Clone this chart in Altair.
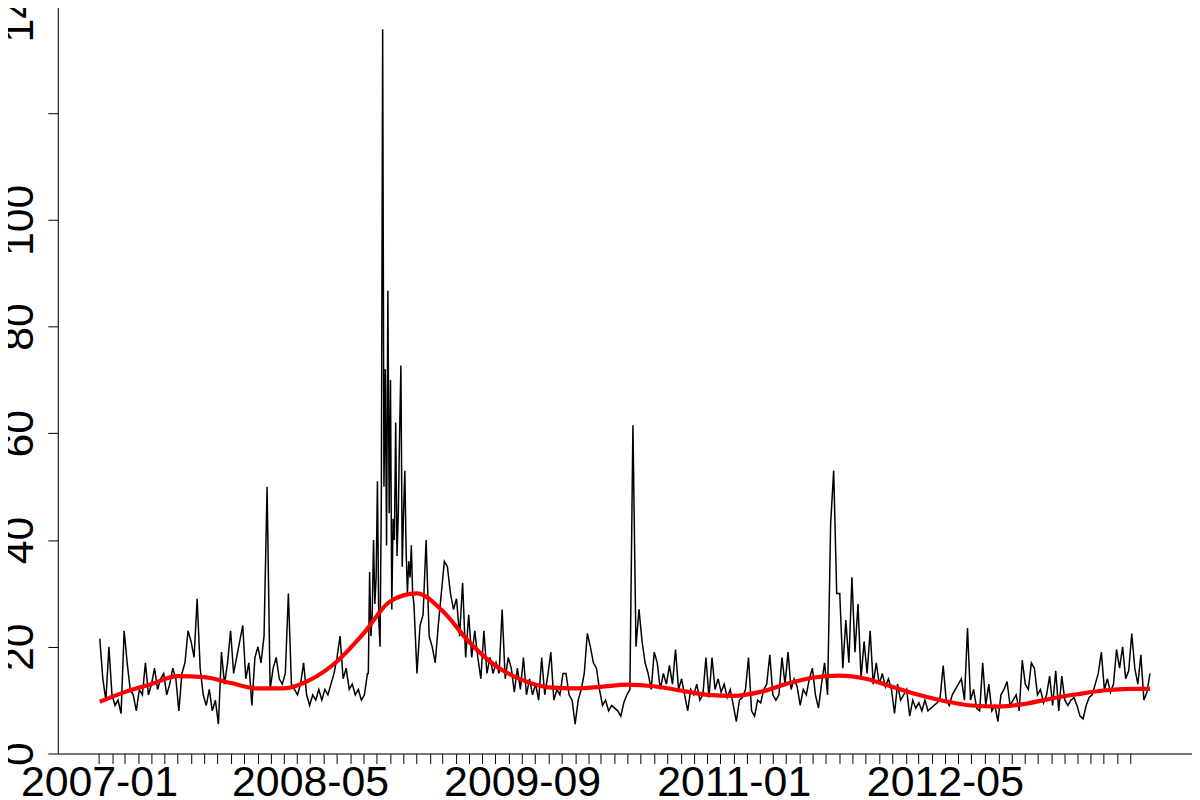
import altair as alt
import pandas as pd

# Weekly observations, Jan 2007 - Sep 2008
vals_2007_2008 = [21.5, 14, 10, 20, 11, 9, 10, 7.5, 23, 17, 12, 11, 8, 12, 11, 17, 11, 13, 16, 12,
                  14, 15, 11, 13, 16, 14, 8, 15, 17, 23, 21, 18, 29, 16, 11, 9, 12, 8, 10, 5.5,
                  19, 13, 17, 23, 15, 18, 21, 24, 14, 17, 9, 18, 20, 17, 22, 50, 12, 16, 18,
                  14, 13, 15, 30, 13, 12, 11, 13, 17, 11, 9, 11, 10, 12, 10, 12, 11, 13, 15, 18,
                  22, 14, 16, 12, 13, 11, 12, 10, 11, 15]
# Every third day during the autumn 2008 crisis
vals_crisis = [15, 34, 22, 26, 40, 28, 33, 51, 25, 20, 49, 135.7, 50, 72, 39, 86.7, 45, 70, 27, 44,
               40, 62, 37, 45, 60, 72.7, 35, 45, 53, 38, 30, 36, 33, 39, 30, 28]
# Weekly observations, Jan 2009 - Aug 2013
vals_2009_2013 = [15, 24, 26, 40, 22, 20, 17, 24, 30, 36,
                  35, 30, 27, 29, 22, 32, 18, 26, 18, 23,
                  18, 14, 23, 15, 18, 15, 17, 15, 27, 14,
                  18, 16, 11.5, 16, 12, 18, 11, 14, 11, 13,
                  10, 18, 11, 14.6, 19, 10, 12, 11, 15, 15,
                  11, 10, 5.5, 10, 12, 15, 22.5, 20, 17, 16,
                  12, 9, 10, 8, 9, 8.5, 8, 7, 9.5, 11,
                  12, 61.5, 20, 27, 21, 17, 15, 12, 19, 17,
                  12, 15, 13, 16.5, 13, 19.5, 12, 14, 11, 8,
                  12, 11, 13, 10, 11, 18, 10.5, 18, 12, 14,
                  11.5, 13, 10.5, 12, 9, 6, 10, 10.5, 12, 18,
                  8, 7, 10, 9.5, 12, 13, 18.5, 11, 10, 11,
                  18, 13, 19, 12, 14, 12.5, 9, 12, 11, 14,
                  16, 11, 8.5, 13, 17, 11, 43, 53, 30, 30,
                  16, 25, 17, 33, 19, 28, 14, 21, 15, 23,
                  13, 17, 13, 15, 12.5, 14, 12, 7.5, 13, 10,
                  11, 12, 7, 10, 8.5, 9.5, 8, 10, 8, 8.5,
                  9, 9.5, 10.5, 16.5, 10, 9, 11, 12, 13, 14,
                  10, 23.5, 10, 12, 8.5, 8, 17, 9, 13, 8,
                  9, 6, 11, 12, 13.5, 9, 10, 11, 8, 17.5,
                  13, 12, 17, 16, 11, 12, 9.5, 11, 14.5, 9,
                  15.5, 8, 14.5, 10, 9, 10, 10.5, 9, 7, 6.5,
                  9, 10.5, 11, 13, 15, 19, 12, 14, 11.5, 13,
                  19.5, 16, 20, 14, 15.5, 22.5, 16, 13, 18.5, 10,
                  11.5, 15]
# Smooth trend (red), first day, then every two months, then last day
trend_vals = [9.7, 11.5, 13.0, 14.5, 14.3, 13.2, 12.2, 12.2, 13.8, 17.2, 22.5, 28.5, 30.0, 26.8,
              21.0, 16.5, 13.8, 12.4, 12.2, 12.5, 12.9, 12.6, 11.8, 11.0, 10.8, 11.5, 13.0, 14.2,
              14.6, 14.0, 12.5, 11.0, 9.8, 9.0, 8.8, 9.3, 10.3, 11.1, 11.8, 12.1, 12.1]

y_ticks = [0, 20, 40, 60, 80, 100, 120, 140]
x_labels = ["2007-01", "2008-05", "2009-09", "2011-01", "2012-05"]

dates = (pd.date_range("2007-01-03", periods=len(vals_2007_2008), freq="7D")
         .append(pd.date_range("2008-09-12", periods=len(vals_crisis), freq="3D"))
         .append(pd.date_range("2009-01-02", periods=len(vals_2009_2013), freq="7D")))
series = pd.DataFrame({"t": dates.asi8 // 10**6,
                       "v": vals_2007_2008 + vals_crisis + vals_2009_2013})

trend_dates = (pd.DatetimeIndex(["2007-01-03"])
               .append(pd.date_range("2007-03-01", periods=39, freq="2MS"))
               .append(pd.DatetimeIndex(["2013-08-16"])))
trend = pd.DataFrame({"t": trend_dates.asi8 // 10**6, "v": trend_vals})

t0, t1 = int(series.t.min()), int(series.t.max())
pad = 0.04 * (t1 - t0)
x_domain = [t0 - pad, t1 + pad]

month_ticks = [int(v) for v in pd.date_range("2007-01-01", periods=79, freq="MS").asi8 // 10**6]
lab_list = ",".join(f"'{m}'" for m in x_labels)
x_expr = (f"indexof([{lab_list}], utcFormat(datum.value, '%Y-%m')) >= 0 ? "
          f"utcFormat(datum.value, '%Y-%m') : ''")

FONT = "Liberation Sans"

x_enc = alt.X("t:T",
              scale=alt.Scale(type="utc", domain=x_domain, nice=False),
              axis=alt.Axis(values=month_ticks, tickCount=500, labelExpr=x_expr, title=None,
                            grid=False, tickSize=10, tickColor="black", tickWidth=1,
                            domainColor="black", domainWidth=1,
                            labelFont=FONT, labelFontSize=43, labelColor="black",
                            labelFlush=False, labelOverlap=False, labelBound=False,
                            labelPadding=-2, labelBaseline="top", labelAlign="center"))
y_enc = alt.Y("v:Q",
              scale=alt.Scale(domain=[0, 140.5], nice=False, zero=False),
              axis=alt.Axis(values=y_ticks, tickCount=100,
                            labelExpr="datum.value == 120 ? '' : datum.label",
                            title=None, grid=False,
                            tickSize=10, tickColor="black", tickWidth=1,
                            domainColor="black", domainWidth=1,
                            labelFont=FONT, labelFontSize=43, labelColor="black",
                            labelAngle=270, labelAlign="center", labelBaseline="alphabetic",
                            labelPadding=15, labelOverlap=False, labelFlush=False))

black = alt.Chart(series).mark_line(color="black", strokeWidth=1.5).encode(x=x_enc, y=y_enc)
red = alt.Chart(trend).mark_line(color="#ff0000", strokeWidth=4.2,
                                 interpolate="monotone").encode(x="t:T", y="v:Q")

chart = (alt.layer(black, red)
         .properties(width=1139, height=753,
                     autosize=alt.AutoSizeParams(type="none"),
                     padding={"left": 50, "top": -6, "right": 0, "bottom": 42})
         .configure_view(stroke="black", strokeWidth=1)
         .configure(background="white"))

chart.save("out.html", embed_options={"renderer": "svg", "actions": False})
